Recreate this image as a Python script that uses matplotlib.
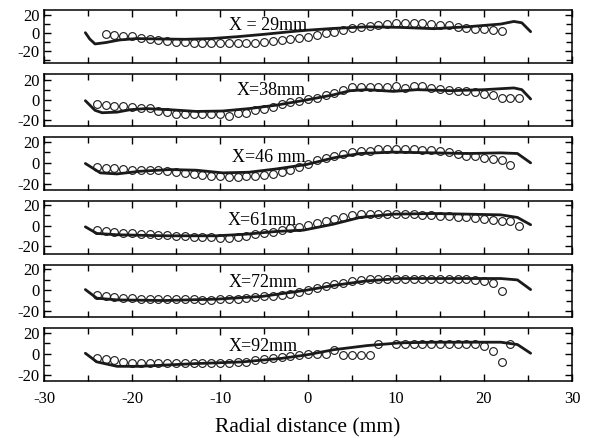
import matplotlib
matplotlib.use("Agg")
import matplotlib.pyplot as plt
from matplotlib.ticker import MultipleLocator

plt.rcParams["font.family"] = ["Liberation Serif", "DejaVu Serif"]
plt.rcParams["axes.unicode_minus"] = False

# Axial stations
labels = ["X = 29mm", "X=38mm", "X=46 mm", "X=61mm", "X=72mm", "X=92mm"]

# Measured radial profiles (circles): radial position in mm and value
meas_r1 = list(range(-23, 23))
meas_v1 = [-1.8, -2.5, -3.3, -3.6, -5.5, -6.9, -8.0, -8.7, -9.8, -10.2, -10.9, -10.9,
           -11.6, -11.6, -11.6, -11.6, -11.3, -10.9, -10.2, -9.1, -8.0, -6.9, -6.0,
           -4.8, -2.8, -0.7, 1.1, 2.9, 5.5, 6.5, 7.3, 8.0, 9.5, 10.2, 10.2, 10.5,
           10.2, 9.5, 8.7, 8.0, 6.5, 5.5, 4.0, 3.6, 2.9, 2.2]

meas_r2 = list(range(-24, 25))
meas_v2 = [-4.4, -5.1, -5.8, -5.8, -6.8, -7.5, -7.5, -11.3, -12.0, -13.7, -13.7, -14.3,
           -13.7, -14.3, -14.3, -15.4, -12.6, -12.6, -10.2, -9.2, -6.8, -4.4, -1.7,
           -1.0, 0.5, 2.4, 5.1, 6.8, 9.6, 12.6, 12.6, 12.6, 12.6, 12.6, 13.7, 11.9,
           13.7, 13.7, 11.9, 11.3, 10.2, 9.2, 8.5, 7.8, 5.8, 5.1, 2.4, 2.4, 2.4]

meas_r3 = list(range(-24, 24))
meas_v3 = [-3.8, -4.7, -5.3, -5.7, -6.3, -6.3, -6.3, -6.9, -7.9, -8.8, -9.4, -10.4,
           -11.0, -11.9, -12.6, -13.2, -13.2, -12.6, -12.6, -11.0, -10.1, -8.5, -6.9,
           -3.8, -0.8, 3.1, 4.7, 6.9, 8.8, 10.1, 11.0, 11.6, 12.6, 12.6, 12.6, 12.6,
           12.6, 11.9, 11.9, 11.0, 10.1, 8.8, 6.9, 6.3, 4.7, 3.8, 3.1, -2.2]

meas_r4 = list(range(-24, 25))
meas_v4 = [-4.2, -5.5, -6.5, -7.4, -7.4, -8.1, -8.1, -8.7, -8.7, -9.7, -9.7, -10.6,
           -11.3, -11.3, -11.9, -11.9, -10.6, -9.7, -8.1, -7.4, -6.5, -4.2, -2.6,
           -1.6, 0.8, 2.3, 4.8, 6.5, 8.7, 10.3, 11.3, 11.9, 11.9, 11.9, 11.3, 11.3,
           11.3, 10.6, 10.6, 9.7, 9.7, 8.7, 8.1, 7.4, 6.5, 5.5, 4.8, 4.2, 0.0]

meas_r5 = list(range(-24, 23))
meas_v5 = [-4.2, -5.8, -6.5, -7.5, -7.5, -8.1, -8.1, -8.1, -8.1, -8.1, -8.4, -8.4,
           -9.1, -9.1, -8.4, -8.4, -8.1, -7.5, -6.5, -5.8, -5.2, -4.2, -3.6, -1.9,
           0.6, 2.3, 3.9, 5.5, 7.1, 8.8, 9.7, 10.4, 11.0, 11.0, 11.0, 11.0, 11.0,
           11.0, 11.0, 11.0, 11.0, 11.0, 10.4, 9.7, 8.8, 7.1, -1.0]

meas_r6 = list(range(-24, 9)) + list(range(10, 24))
meas_v6 = [-4.2, -5.2, -5.8, -7.5, -8.4, -8.4, -8.4, -8.4, -8.4, -8.4, -8.4, -8.4,
           -8.4, -8.4, -8.4, -8.4, -7.5, -7.5, -5.8, -5.2, -4.2, -3.2, -1.9, -1.0,
           0.3, 0.0, 0.0, 3.9, -1.0, -1.0, -1.0, -1.0, 9.7,
           9.7, 9.7, 9.7, 9.7, 9.7, 9.7, 9.7, 9.7, 9.7, 9.7, 7.1, 2.3, -7.5, 9.7]

# Computed profiles (solid curves)
calc_r1 = [-25.3, -24.8, -24.2, -23.0, -21.4, -19.5, -17.0, -14.0, -11.0, -8.0, -5.0,
           -2.0, 0.0, 2.9, 6.7, 10.5, 14.3, 18.1, 21.9, 23.4, 24.3, 25.3]
calc_v1 = [0.0, -7.0, -12.4, -10.9, -8.0, -6.5, -6.9, -7.3, -6.5, -4.4, -1.8,
           1.1, 2.8, 4.7, 6.5, 5.8, 4.4, 6.5, 9.5, 12.4, 10.9, 1.1]

calc_r2 = [-25.3, -24.2, -23.4, -21.7, -20.2, -18.4, -15.7, -12.7, -9.7, -6.7, -3.6,
           -0.2, 2.9, 4.8, 6.7, 9.7, 12.4, 16.2, 20.0, 23.4, 24.3, 25.3]
calc_v2 = [-0.7, -10.2, -12.6, -12.0, -9.6, -8.5, -9.6, -11.3, -10.9, -8.5, -5.1,
           0.0, 5.1, 9.2, 10.2, 8.5, 10.2, 9.2, 10.2, 11.9, 10.2, 1.0]

calc_r3 = [-25.3, -23.6, -21.7, -19.1, -15.7, -12.7, -9.7, -6.7, -3.6, -0.2, 2.9,
           5.9, 9.7, 14.3, 18.1, 21.9, 23.8, 25.3]
calc_v3 = [-0.6, -9.4, -10.4, -7.9, -6.3, -6.9, -9.4, -8.8, -5.7, -1.6, 4.7,
           8.8, 10.1, 9.4, 8.8, 9.4, 8.8, 0.0]

calc_r4 = [-25.3, -24.0, -21.7, -16.4, -10.4, -7.0, -3.6, -0.5, 2.9, 5.9, 9.7,
           14.3, 18.1, 21.9, 23.8, 25.3]
calc_v4 = [-1.0, -7.4, -8.7, -9.7, -9.7, -8.1, -5.5, -4.2, 1.6, 8.1, 11.3,
           11.9, 11.3, 10.6, 8.1, 1.0]

calc_r5 = [-25.3, -24.0, -21.7, -16.4, -10.4, -5.2, -0.2, 2.9, 6.7, 10.5, 14.3,
           18.1, 21.9, 23.8, 25.3]
calc_v5 = [0.6, -7.5, -9.1, -9.7, -8.4, -5.8, 0.0, 4.5, 8.8, 11.0, 11.0,
           11.0, 11.0, 9.7, 0.6]

calc_r6 = [-25.3, -24.0, -21.7, -19.1, -12.7, -7.4, -3.0, -0.2, 2.9, 6.7, 10.5,
           14.3, 18.1, 21.9, 23.8, 25.3]
calc_v6 = [0.6, -7.5, -11.7, -11.7, -9.1, -7.5, -4.2, -1.0, 3.9, 7.8, 10.4,
           11.0, 11.0, 11.0, 8.8, 0.6]

meas_r = [meas_r1, meas_r2, meas_r3, meas_r4, meas_r5, meas_r6]
meas_v = [meas_v1, meas_v2, meas_v3, meas_v4, meas_v5, meas_v6]
calc_r = [calc_r1, calc_r2, calc_r3, calc_r4, calc_r5, calc_r6]
calc_v = [calc_v1, calc_v2, calc_v3, calc_v4, calc_v5, calc_v6]

label_xy = [(-4.5, 8.4), (-4.2, 9.2), (-4.5, 4.7), (-5.2, 4.8), (-5.1, 7.1), (-5.1, 7.1)]
ylims = [(-33, 25), (-26, 26), (-25.5, 24), (-27, 24), (-25.5, 24), (-25.5, 24)]

fig = plt.figure(figsize=(5.92, 4.38), dpi=100)
gs = fig.add_gridspec(6, 1, left=44 / 592, right=572 / 592,
                      top=1 - 10 / 438, bottom=1 - 381 / 438, hspace=0.21)

for i in range(6):
    ax = fig.add_subplot(gs[i])
    ax.plot(calc_r[i], calc_v[i], color="#1a1a1a", lw=2.0, solid_capstyle="round",
            solid_joinstyle="round", zorder=2)
    ax.plot(meas_r[i], meas_v[i], linestyle="none", marker="o", ms=5.6,
            mfc="none", mec="#1a1a1a", mew=0.8, zorder=3)
    ax.text(label_xy[i][0], label_xy[i][1], labels[i], ha="center", va="center",
            fontsize=13)
    ax.set_xlim(-30, 30)
    ax.set_ylim(*ylims[i])
    ax.xaxis.set_major_locator(MultipleLocator(10))
    ax.xaxis.set_minor_locator(MultipleLocator(5))
    ax.yaxis.set_major_locator(MultipleLocator(20))
    ax.yaxis.set_minor_locator(MultipleLocator(10))
    ax.tick_params(which="both", direction="in", top=True, right=True,
                   labelsize=12, pad=3)
    ax.tick_params(axis="x", which="major", pad=7.5)
    ax.tick_params(which="major", length=5, width=1)
    ax.tick_params(which="minor", length=4, width=1)
    for s in ax.spines.values():
        s.set_linewidth(1.1)
    if i < 5:
        ax.tick_params(labelbottom=False)
    else:
        ax.set_xlabel("Radial distance (mm)", fontsize=15.5, labelpad=8)

fig.savefig("out.png", dpi=100)
